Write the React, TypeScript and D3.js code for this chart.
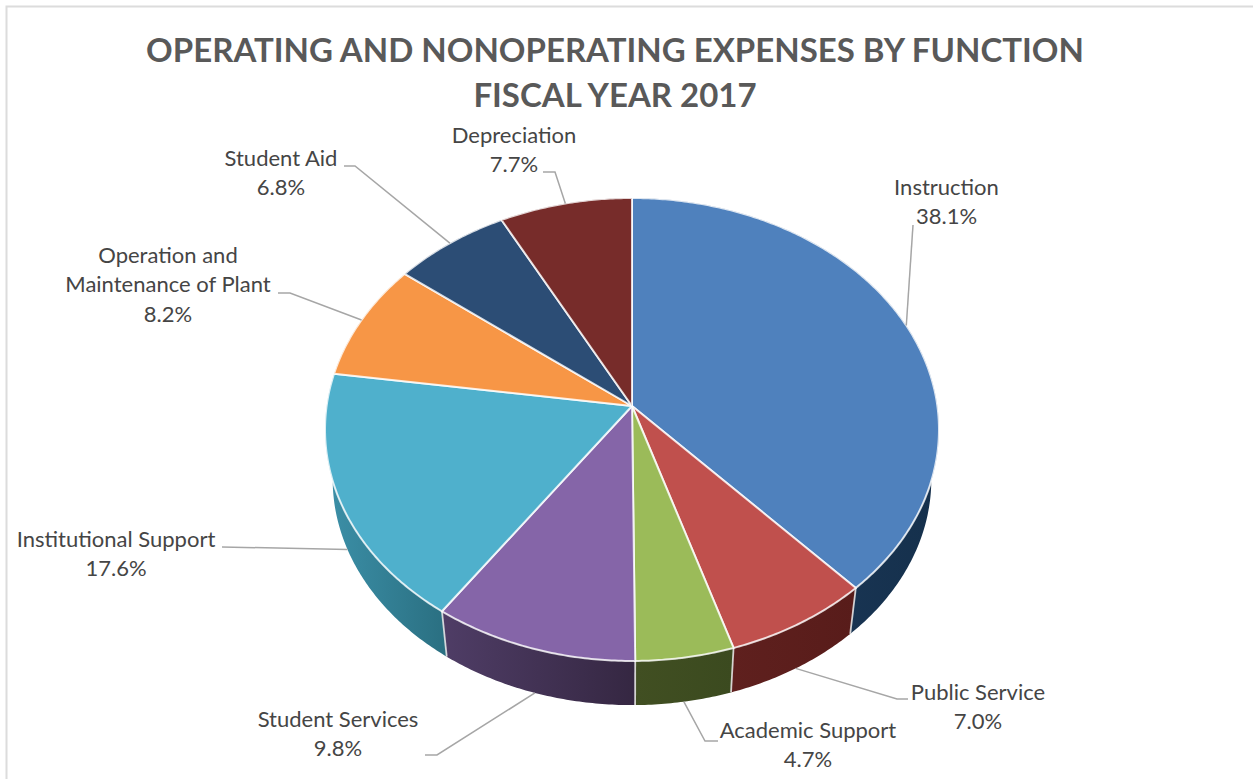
import React from "react";
import * as d3 from "d3";

const categories = ["Instruction", "Public Service", "Academic Support", "Student Services", "Institutional Support", "Operation and Maintenance of Plant", "Student Aid", "Depreciation"];
const shares = [38.1, 7.0, 4.7, 9.8, 17.6, 8.2, 6.8, 7.7];
const labelLines = [["Instruction"], ["Public Service"], ["Academic Support"], ["Student Services"], ["Institutional Support"], ["Operation and", "Maintenance of Plant"], ["Student Aid"], ["Depreciation"]];
const titleLines = ["OPERATING AND NONOPERATING EXPENSES BY FUNCTION", "FISCAL YEAR 2017"];

const topColors = ["#4f81bd", "#c0504d", "#9bbb59", "#8565a8", "#4fb0cc", "#f79646", "#2c4d75", "#772c2a"];
const wallLeft = ["#1f3d60", "#5f201e", "#414f22", "#4f3d66", "#3c90a8", "#c87020", "#1e3450", "#501c1b"];
const wallRight = ["#15304c", "#581c1a", "#3b4a1f", "#352742", "#2a6f81", "#b06010", "#16283e", "#401514"];

// label layout: text centre, first baseline, leader elbow and leader end
const labelLayout = [
  { x: 946.5, y: 195, elbow: [913, 225], end: [913, 225] },
  { x: 978, y: 700, elbow: [897, 699], end: [908, 699] },
  { x: 808, y: 738, elbow: [705, 741], end: [718, 741] },
  { x: 338, y: 727, elbow: [437, 755], end: [425, 755] },
  { x: 116, y: 547, elbow: [222, 547], end: [222, 547] },
  { x: 168, y: 263, elbow: [290, 293], end: [278, 293] },
  { x: 281, y: 166, elbow: [355, 166], end: [344, 166] },
  { x: 514, y: 142.5, elbow: [555, 172], end: [543, 172] },
];

const W = 1253, H = 779;
const cx = 632, cy = 406;
const A = 305.4, B = 229.1, K = 0.1015;
const wallScale = 0.975, wallDrop = 50.5;
const LINE_H = 29.3;

function ring(theta: number, lower = false): [number, number] {
  const w = 1 + K * Math.cos(theta);
  const x = (A * Math.sin(theta)) / w;
  const y = (-B * Math.cos(theta)) / w;
  return lower ? [cx + x * wallScale, cy + y * wallScale + wallDrop] : [cx + x, cy + y];
}

function arcAngles(a0: number, a1: number): number[] {
  const n = Math.max(2, Math.ceil((a1 - a0) / 0.01));
  return d3.range(n + 1).map((i) => a0 + ((a1 - a0) * i) / n);
}

const pieGen = d3.pie<number>().sort(null).value((d) => d);
const slices = pieGen(shares);
const path = d3.line();
const fmt = d3.format(".1f");

export default function App() {
  return (
    <svg width={W} height={H} viewBox={`0 0 ${W} ${H}`} style={{ position: "absolute", left: 0, top: 0, background: "#fff" }} fontFamily="Lato, 'Open Sans', sans-serif">
      <defs>
        {slices.map((_, i) => (
          <linearGradient key={i} id={`wall${i}`} x1="0" x2="1" y1="0" y2="0">
            <stop offset="0" stopColor={wallLeft[i]} />
            <stop offset="1" stopColor={wallRight[i]} />
          </linearGradient>
        ))}
      </defs>
      <path d={path([[W + 2, 6.5], [6.5, 6.5], [6.5, H + 2]]) ?? ""} fill="none" stroke="#dcdcdc" strokeWidth={2} />

      {titleLines.map((t, i) => (
        <text key={t} x={615} y={61.5 + i * 45} textAnchor="middle" fontSize={33} fontWeight={700} fill="#595959">{t}</text>
      ))}

      <g>
        {slices.map((s, i) => {
          const angles = arcAngles(s.startAngle, s.endAngle);
          const pts = [...angles.map((a) => ring(a)), ...angles.slice().reverse().map((a) => ring(a, true))];
          return <path key={i} d={(path(pts) ?? "") + "Z"} fill={`url(#wall${i})`} />;
        })}
        {slices.map((s, i) => {
          const a = s.endAngle;
          const mid = Math.cos(a) < 0.1;
          return mid ? <path key={i} d={path([ring(a), ring(a, true)]) ?? ""} stroke="#e8e8e8" strokeOpacity={0.85} strokeWidth={1.8} fill="none" /> : null;
        })}
      </g>

      <g>
        {slices.map((s, i) => {
          const pts = [[cx, cy] as [number, number], ...arcAngles(s.startAngle, s.endAngle).map((a) => ring(a))];
          return (
            <path key={categories[i]} d={(path(pts) ?? "") + "Z"} fill={topColors[i]} stroke="#fff" strokeOpacity={0.8} strokeWidth={2} strokeLinejoin="round" />
          );
        })}
      </g>

      <g fill="none" stroke="#a6a6a6" strokeWidth={1.5}>
        {slices.map((s, i) => {
          const m = (s.startAngle + s.endAngle) / 2;
          const front = Math.cos(m) < -0.1;
          const l = labelLayout[i];
          return <path key={i} d={path([ring(m, front), l.elbow as [number, number], l.end as [number, number]]) ?? ""} />;
        })}
      </g>

      <g fontSize={22} fill="#454545" textAnchor="middle">
        {slices.map((s, i) => {
          const l = labelLayout[i];
          const lines = [...labelLines[i], `${fmt(shares[i])}%`];
          return (
            <text key={i}>
              {lines.map((t, j) => (
                <tspan key={j} x={l.x} y={l.y + j * LINE_H}>{t}</tspan>
              ))}
            </text>
          );
        })}
      </g>
    </svg>
  );
}
